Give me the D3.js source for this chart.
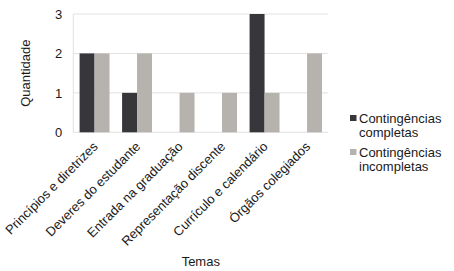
<!DOCTYPE html>
<html>
<head>
<meta charset="utf-8">
<script src="https://cdn.jsdelivr.net/npm/d3@7"></script>
<style>
  body { margin: 0; background: #fff; }
  text { font-family: "Liberation Sans", Arial, sans-serif; fill: #1a1a1a; }
</style>
</head>
<body>
<div id="chart"></div>
<script>
const temas = ["Princípios e diretrizes", "Deveres do estudante", "Entrada na graduação",
    "Representação discente", "Currículo e calendário", "Órgãos colegiados"];
const completas = [2, 1, 0, 0, 3, 0];
const incompletas = [2, 2, 1, 1, 1, 2];
const seriesNames = ["Contingências completas", "Contingências incompletas"];
const yTicks = [0, 1, 2, 3];

const width = 454, height = 271;
const plot = { left: 73.3, right: 328.3, top: 14, bottom: 132.3 };
const colors = ["#36363b", "#b6b3ae"];

const svg = d3.select("#chart").append("svg")
    .attr("width", width)
    .attr("height", height);

const x0 = d3.scaleBand()
    .domain(temas)
    .range([plot.left, plot.right])
    .padding(0);

const x1 = d3.scaleBand()
    .domain([0, 1])
    .range([0, x0.bandwidth()])
    .paddingInner(0)
    .paddingOuter(0.42);

const y = d3.scaleLinear()
    .domain([0, 3])
    .range([plot.bottom, plot.top]);

// Gridlines
svg.append("g")
    .selectAll("line")
    .data(yTicks)
    .enter()
    .append("line")
    .attr("x1", plot.left)
    .attr("x2", plot.right)
    .attr("y1", d => y(d))
    .attr("y2", d => y(d))
    .attr("stroke", "#e2e2e2")
    .attr("stroke-width", 1);

svg.append("line")
    .attr("x1", plot.left).attr("x2", plot.left)
    .attr("y1", plot.top).attr("y2", plot.bottom)
    .attr("stroke", "#e2e2e2");

// Y axis labels
const yAxis = svg.append("g")
    .attr("transform", `translate(${plot.left},0)`)
    .call(d3.axisLeft(y).tickValues(yTicks).tickFormat(d3.format("d")).tickSize(0).tickPadding(11));
yAxis.select(".domain").remove();
yAxis.selectAll("text")
    .style("font-size", "13px")
    .style("font-family", "Liberation Sans, Arial, sans-serif")
    .attr("fill", "#1a1a1a");

// Bars
const rows = temas.map((t, i) => ({ tema: t, values: [completas[i], incompletas[i]] }));

svg.append("g")
    .selectAll("g")
    .data(rows)
    .enter()
    .append("g")
    .attr("transform", d => `translate(${x0(d.tema)},0)`)
    .selectAll("rect")
    .data(d => d.values.map((v, k) => ({ k, v })))
    .enter()
    .append("rect")
    .attr("x", d => x1(d.k))
    .attr("width", x1.bandwidth())
    .attr("y", d => y(d.v))
    .attr("height", d => y(0) - y(d.v))
    .attr("fill", d => colors[d.k]);

// X axis labels
const xAxis = svg.append("g")
    .attr("transform", `translate(0,${plot.bottom})`)
    .call(d3.axisBottom(x0).tickSize(0).tickPadding(0));
xAxis.select(".domain").remove();
xAxis.selectAll("text")
    .style("font-size", "13px")
    .style("font-family", "Liberation Sans, Arial, sans-serif")
    .attr("fill", "#1a1a1a")
    .attr("text-anchor", "end")
    .attr("dy", null)
    .attr("y", 0)
    .attr("transform", "translate(4,15) rotate(-45)");

// Axis titles
svg.append("text")
    .attr("transform", `translate(30,${(plot.top + plot.bottom) / 2}) rotate(-90)`)
    .attr("text-anchor", "middle")
    .style("font-size", "13px")
    .text("Quantidade");

svg.append("text")
    .attr("x", (plot.left + plot.right) / 2)
    .attr("y", 266)
    .attr("text-anchor", "middle")
    .style("font-size", "13px")
    .text("Temas");

// Legend
const legend = svg.append("g")
    .selectAll("g")
    .data(seriesNames)
    .enter()
    .append("g")
    .attr("transform", (d, i) => `translate(350,${115 + i * 34})`);

legend.append("rect")
    .attr("width", 6.5)
    .attr("height", 6)
    .attr("fill", (d, i) => colors[i]);

legend.append("text")
    .attr("x", 9)
    .attr("y", 8)
    .style("font-size", "13px")
    .selectAll("tspan")
    .data(d => d.split(" "))
    .enter()
    .append("tspan")
    .attr("x", 9)
    .attr("dy", (d, i) => i === 0 ? 0 : 13.5)
    .text(d => d);
</script>
</body>
</html>
